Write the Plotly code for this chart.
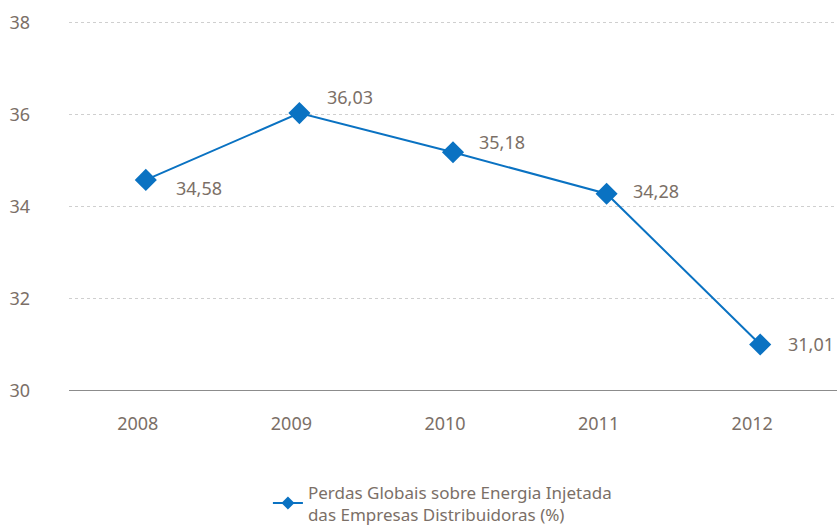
import plotly.graph_objects as go

years = ["2008", "2009", "2010", "2011", "2012"]
values = [34.58, 36.03, 35.18, 34.28, 31.01]
labels = ["34,58", "36,03", "35,18", "34,28", "31,01"]
label_pos = [(28, -8), (26, 16), (24, 10), (24, 3), (26, 0)]
series_name = "Perdas Globais sobre Energia Injetada<br>das Empresas Distribuidoras (%)"
yticks = [30, 32, 34, 36, 38]

FONT = "Noto Sans"
GRAY = "#7b6f67"
BLUE = "#0a72c2"

fig = go.Figure()
fig.add_trace(go.Scatter(
    x=years, y=values, mode="lines+markers", name=series_name, showlegend=False,
    line=dict(color=BLUE, width=2),
    marker=dict(symbol="diamond", size=17, color=BLUE),
))
# legend entry with a smaller sample marker
fig.add_trace(go.Scatter(
    x=[None], y=[None], mode="lines+markers", name=series_name, showlegend=True,
    line=dict(color=BLUE, width=2),
    marker=dict(symbol="diamond", size=10, color=BLUE),
))

for i, (y, t, (dx, dy)) in enumerate(zip(values, labels, label_pos)):
    fig.add_annotation(x=i, y=y, xref="x", yref="y", text=t, showarrow=False, xanchor="left",
                       xshift=dx, yshift=dy, font=dict(family=FONT, size=18, color=GRAY))

fig.update_layout(
    width=839, height=526,
    margin=dict(l=69, r=2, t=20, b=135, autoexpand=False),
    plot_bgcolor="white", paper_bgcolor="white",
    font=dict(family=FONT, size=18, color=GRAY),
    showlegend=True,
    legend=dict(orientation="h", x=0.259, xanchor="left", y=-0.225, yanchor="top",
                font=dict(family=FONT, size=17, color=GRAY)),
    xaxis=dict(type="category", range=[-0.5, 4.5], showgrid=False, showline=False,
               ticks="", ticklabelstandoff=20, ticklabelshift=-8, zeroline=False,
               automargin=False),
    yaxis=dict(range=[30, 38.05], tickvals=yticks, showgrid=True, gridcolor="#cfcfcf",
               griddash="dot", gridwidth=1, zeroline=False, showline=False, ticks="",
               ticklabelstandoff=38, automargin=False),
)
fig.add_shape(type="line", xref="paper", yref="y", x0=0, x1=1, y0=30, y1=30,
              line=dict(color="#8c8c8c", width=2))

fig.write_html("out.html", config={"displayModeBar": False},
               post_script="document.body.style.margin='0';")
